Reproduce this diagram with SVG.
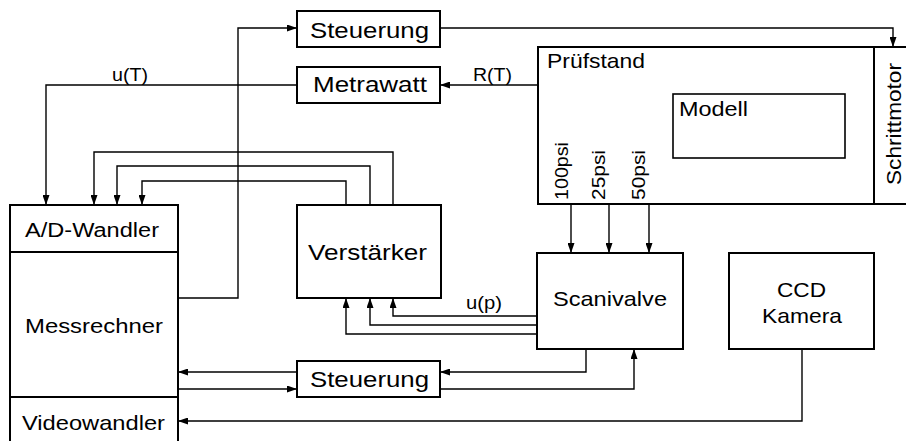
<svg xmlns="http://www.w3.org/2000/svg" width="906" height="441" viewBox="0 0 906 441">
<style>
.box{fill:#fff;stroke:#000;stroke-width:2}
.ln{fill:none;stroke:#000;stroke-width:1.4}
.arr{fill:none;stroke:#000;stroke-width:1.4;marker-end:url(#ah)}
text{font-family:"Liberation Sans",Arial,sans-serif;fill:#000;font-size:21px}
.sm{font-size:18px}
</style>
<defs>
<marker id="ah" markerUnits="userSpaceOnUse" markerWidth="10" markerHeight="7" refX="10" refY="3.5" orient="auto">
<path d="M0,0 L10,3.5 L0,7 z" fill="#000"/>
</marker>
</defs>
<rect width="906" height="441" fill="#fff"/>
<g id="connectors">
<path class="arr" d="M178,298 H238 V28 H297"/>
<path class="arr" d="M440,28 H893 V47"/>
<path class="arr" d="M571,85 H440"/>
<path class="arr" d="M297,85 H46 V205"/>
<path class="arr" d="M393,205 V152 H94 V205"/>
<path class="arr" d="M370,205 V166 H117 V205"/>
<path class="arr" d="M346,205 V181 H142 V205"/>
<path class="arr" d="M537,316 H393 V298"/>
<path class="arr" d="M537,325 H370 V298"/>
<path class="arr" d="M537,334 H346 V298"/>
<path class="arr" d="M571,127 V253"/>
<path class="arr" d="M609,127 V253"/>
<path class="arr" d="M682,127 H649 V253"/>
<path class="arr" d="M297,372 H178"/>
<path class="arr" d="M178,389 H297"/>
<path class="arr" d="M586,349 V372 H440"/>
<path class="arr" d="M440,389 H634 V349"/>
<path class="arr" d="M802,349 V421 H178"/>
</g>
<g id="pruefstand">
<rect class="box" x="538" y="47" width="336" height="157"/>
<text x="547" y="68" textLength="98" lengthAdjust="spacingAndGlyphs">Prüfstand</text>
</g>
<g id="schrittmotor">
<rect class="box" x="874" y="47" width="40" height="157"/>
<text transform="translate(901,185) rotate(-90)" textLength="122" lengthAdjust="spacingAndGlyphs" style="font-size:20px">Schrittmotor</text>
</g>
<g id="modell">
<rect class="box" x="673" y="94" width="172" height="64" style="stroke-width:1.6"/>
<text x="679" y="116" textLength="69" lengthAdjust="spacingAndGlyphs">Modell</text>
</g>
<g id="psi-labels">
<text class="sm" transform="translate(568,200) rotate(-90)" textLength="58" lengthAdjust="spacingAndGlyphs">100psi</text>
<text class="sm" transform="translate(605,200) rotate(-90)" textLength="50" lengthAdjust="spacingAndGlyphs">25psi</text>
<text class="sm" transform="translate(645,200) rotate(-90)" textLength="50" lengthAdjust="spacingAndGlyphs">50psi</text>
</g>
<g id="steuerung-top">
<rect class="box" x="297" y="11" width="143" height="36"/>
<text x="310" y="38" textLength="119" lengthAdjust="spacingAndGlyphs" style="font-size:22px">Steuerung</text>
</g>
<g id="metrawatt">
<rect class="box" x="297" y="67" width="143" height="36"/>
<text x="313" y="92" textLength="114" lengthAdjust="spacingAndGlyphs" style="font-size:22px">Metrawatt</text>
</g>
<g id="labels">
<text class="sm" x="112" y="81" textLength="36" lengthAdjust="spacingAndGlyphs">u(T)</text>
<text class="sm" x="473" y="81" textLength="39" lengthAdjust="spacingAndGlyphs">R(T)</text>
<text class="sm" x="466" y="309" textLength="36" lengthAdjust="spacingAndGlyphs">u(p)</text>
</g>
<g id="messrechner">
<rect class="box" x="10" y="205" width="168" height="245"/>
<line class="box" x1="10" y1="252" x2="178" y2="252"/>
<line class="box" x1="10" y1="397" x2="178" y2="397"/>
<text x="25" y="237" textLength="134" lengthAdjust="spacingAndGlyphs" style="font-size:20px">A/D-Wandler</text>
<text x="25" y="333" textLength="138" lengthAdjust="spacingAndGlyphs">Messrechner</text>
<text x="22" y="430" textLength="143" lengthAdjust="spacingAndGlyphs">Videowandler</text>
</g>
<g id="verstaerker">
<rect class="box" x="297" y="205" width="144" height="93"/>
<text x="308" y="260" textLength="119" lengthAdjust="spacingAndGlyphs" style="font-size:22px">Verstärker</text>
</g>
<g id="scanivalve">
<rect class="box" x="537" y="253" width="146" height="96"/>
<text x="553" y="306" textLength="114" lengthAdjust="spacingAndGlyphs">Scanivalve</text>
</g>
<g id="ccd">
<rect class="box" x="729" y="253" width="145" height="96"/>
<text x="777" y="297" textLength="49" lengthAdjust="spacingAndGlyphs">CCD</text>
<text x="762" y="323" textLength="80" lengthAdjust="spacingAndGlyphs">Kamera</text>
</g>
<g id="steuerung-bottom">
<rect class="box" x="297" y="361" width="143" height="36"/>
<text x="310" y="387" textLength="119" lengthAdjust="spacingAndGlyphs" style="font-size:22px">Steuerung</text>
</g>
</svg>
